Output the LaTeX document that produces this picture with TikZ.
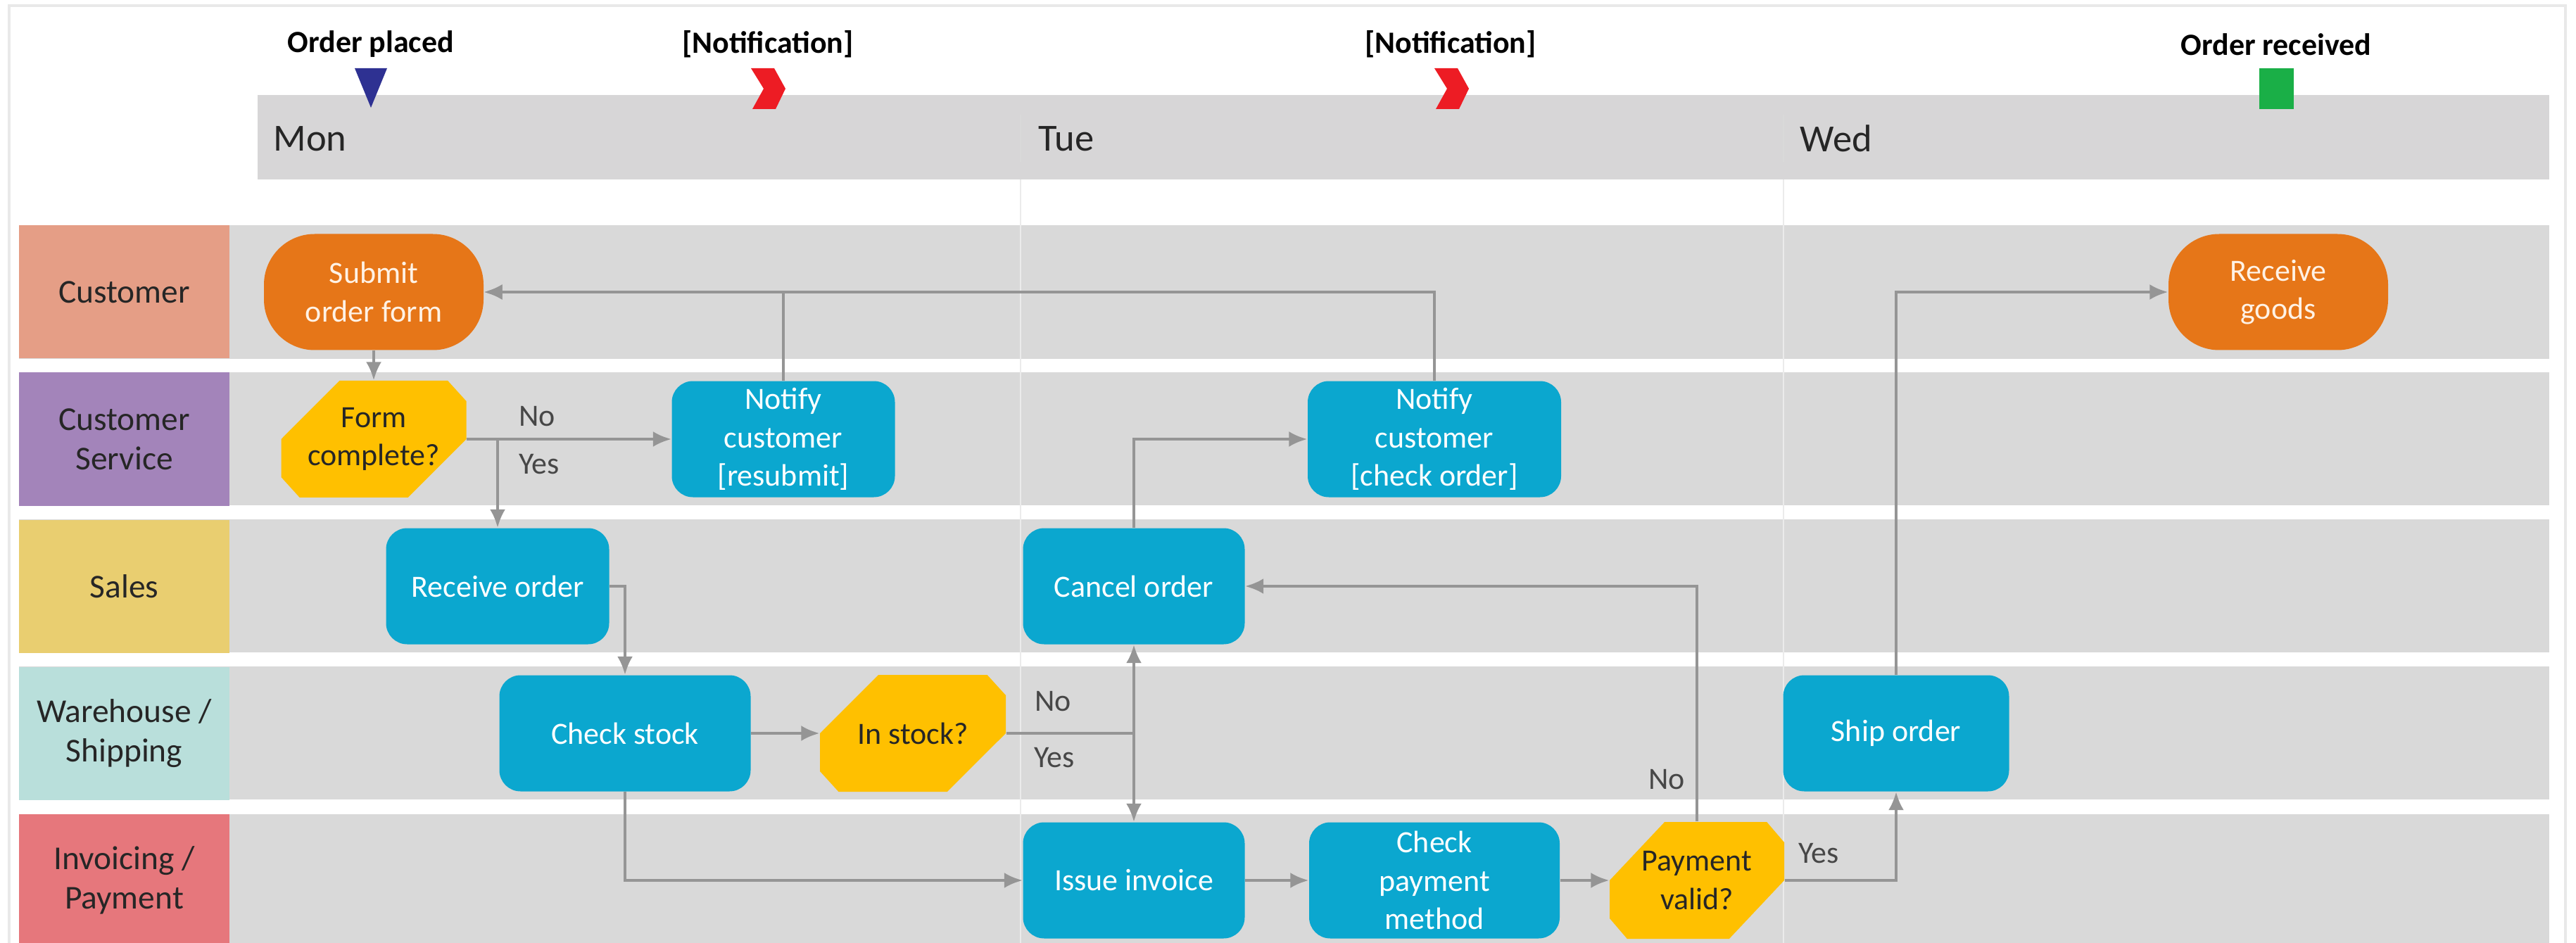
\documentclass[tikz,border=0pt]{standalone}
\usepackage{fontspec}
\setmainfont{Carlito}
\usepackage{tikz}
\usetikzlibrary{shapes}
\usetikzlibrary{positioning}
\usetikzlibrary{arrows.meta}

\definecolor{lanegray}{HTML}{D9D9D9}
\definecolor{bargray}{HTML}{D7D6D7}
\definecolor{framegray}{HTML}{E9E9E9}
\definecolor{linegray}{HTML}{959595}
\definecolor{procblue}{HTML}{0BA7CF}
\definecolor{decyellow}{HTML}{FFC000}
\definecolor{termorange}{HTML}{E67618}
\definecolor{custcolor}{HTML}{E59E86}
\definecolor{servcolor}{HTML}{A384BA}
\definecolor{salescolor}{HTML}{E9CE70}
\definecolor{whcolor}{HTML}{B9DFDB}
\definecolor{invcolor}{HTML}{E6777C}
\definecolor{textdark}{HTML}{262626}
\definecolor{markblue}{HTML}{2E3192}
\definecolor{markred}{HTML}{ED1C24}
\definecolor{markgreen}{HTML}{1AAF47}

\begin{document}
\begin{tikzpicture}[node distance=2.09cm, auto,
    >={Latex[length=2.6mm,width=2.2mm]},
    every node/.style={font=\fontsize{12.5}{15.5}\selectfont},
    process/.style={rounded corners=0.3cm, fill=procblue, text=white, align=center, inner sep=0pt, minimum width=#1, minimum height=1.65cm},
    process/.default=3.17cm,
    terminal/.style={rounded corners=0.72cm, fill=termorange, text=white!90!orange, align=center, inner sep=0pt, minimum width=3.12cm, minimum height=1.65cm},
    decision/.style={minimum width={2*#1 cm}, minimum height=1.66cm, inner sep=0pt, align=center, text=textdark,
        path picture={\fill[decyellow] (path picture bounding box.west) -- ++({0.63*#1},0.83) -- ++({1.17*#1},0)
            -- ++({0.2*#1},-0.29) -- ++(0,-0.54) -- ++({-0.63*#1},-0.83) -- ++({-1.17*#1},0) -- ++({-0.2*#1},0.29) -- cycle;}},
    decision/.default=1.315,
    lanelabel/.style={minimum width=2.99cm, minimum height=1.89cm, inner sep=0pt, align=center, text=textdark, font=\fontsize{13.5}{16}\selectfont},
    flow/.style={->, draw=linegray, line width=1.1pt},
    answer/.style={text=textdark!85, inner sep=0pt},
    milestone/.style={font=\bfseries\fontsize{12.5}{15}\selectfont, text=black, inner sep=0pt},
    day/.style={font=\fontsize{15.5}{18}\selectfont, text=textdark, anchor=west, inner sep=0pt}]

    \useasboundingbox (0,0) rectangle (36.6,-13.4);
    \clip (0,0) rectangle (36.6,-13.4);
    \draw[framegray, line width=1pt] (0.13,-0.08) rectangle (36.45,-13.8);

    % timeline
    \fill[bargray] (3.66,-1.35) rectangle (36.22,-2.55);
    \node[day] (day_mon) at (3.88,-1.97) {Mon};
    \node[day] (day_tue) at (14.75,-1.97) {Tue};
    \node[day] (day_wed) at (25.57,-1.97) {Wed};
    \draw[black!15, line width=0.8pt] (14.50,-1.63) -- (14.50,-2.30);
    \draw[black!15, line width=0.8pt] (25.34,-1.63) -- (25.34,-2.30);

    \node[milestone] (order_placed) at (5.27,-0.63) {Order placed};
    \node[milestone] (notification_a) at (10.91,-0.63) {[Notification]};
    \node[milestone] (notification_b) at (20.61,-0.63) {[Notification]};
    \node[milestone] (order_received) at (32.34,-0.63) {Order received};
    \fill[markblue] (5.04,-0.97) -- (5.50,-0.97) -- (5.27,-1.53) -- cycle;
    \fill[markred] (10.67,-0.97) -- (11.00,-0.97) -- (11.16,-1.26) -- (11.02,-1.55) -- (10.69,-1.55) -- (10.85,-1.26) -- cycle;
    \fill[markred] (20.38,-0.97) -- (20.71,-0.97) -- (20.87,-1.26) -- (20.73,-1.55) -- (20.40,-1.55) -- (20.56,-1.26) -- cycle;
    \fill[markgreen] (32.10,-0.97) rectangle (32.59,-1.55);

    % lanes
    \fill[lanegray] (0.27,-3.20) rectangle (36.22,-5.10);
    \fill[lanegray] (0.27,-5.29) rectangle (36.22,-7.18);
    \fill[lanegray] (0.27,-7.38) rectangle (36.22,-9.27);
    \fill[lanegray] (0.27,-9.47) rectangle (36.22,-11.36);
    \fill[lanegray] (0.27,-11.57) rectangle (36.22,-13.46);
    \draw[white!92!black, line width=0.8pt] (14.50,-2.55) -- (14.50,-13.4);
    \draw[white!92!black, line width=0.8pt] (25.34,-2.55) -- (25.34,-13.4);

    \node[lanelabel, fill=custcolor] (lane_customer) at (1.765,-4.15) {Customer};
    \node[lanelabel, fill=servcolor] (lane_service) [below of=lane_customer] {Customer\\Service};
    \node[lanelabel, fill=salescolor] (lane_sales) [below of=lane_service] {Sales};
    \node[lanelabel, fill=whcolor] (lane_warehouse) [below of=lane_sales] {Warehouse /\\Shipping};
    \node[lanelabel, fill=invcolor] (lane_invoicing) [below of=lane_warehouse] {Invoicing /\\Payment};

    % steps
    \node[terminal] (submit_form) at (5.31,-4.15) {Submit\\order form};
    \node[decision] (form_complete) [below of=submit_form] {Form\\complete?};
    \node[process] (notify_resubmit) at (11.13,-6.24) {Notify\\customer\\{[resubmit]}};
    \node[process] (receive_order) at (7.07,-8.33) {Receive order};
    \node[process=3.57cm] (check_stock) at (8.88,-10.42) {Check stock};
    \node[decision=1.32] (in_stock) [right of=check_stock, node distance=4.09cm] {In stock?};
    \node[process=3.15cm] (cancel_order) at (16.11,-8.33) {Cancel order};
    \node[process=3.15cm] (issue_invoice) [below of=cancel_order, node distance=4.18cm] {Issue invoice};
    \node[process=3.56cm] (check_payment) [right of=issue_invoice, node distance=4.27cm] {Check\\payment\\method};
    \node[decision=1.24] (payment_valid) [right of=check_payment, node distance=3.73cm] {Payment\\valid?};
    \node[process=3.6cm] (notify_check) at (20.38,-6.24) {Notify\\customer\\{[check order]}};
    \node[process=3.21cm] (ship_order) at (26.94,-10.42) {Ship order};
    \node[terminal] (receive_goods) at (32.37,-4.15) {Receive\\goods};

    \node[answer] (form_no) at (7.63,-5.92) {No};
    \node[answer] (form_yes) at (7.66,-6.60) {Yes};
    \node[answer] (stock_no) at (14.96,-9.97) {No};
    \node[answer] (stock_yes) at (14.98,-10.77) {Yes};
    \node[answer] (payment_no) at (23.68,-11.08) {No};
    \node[answer] (payment_yes) at (25.84,-12.13) {Yes};

    % connectors
    \draw[flow] (submit_form) -- (form_complete);
    \draw[flow] (form_complete.east) -- (notify_resubmit.west);
    \draw[flow] (receive_order.north |- form_complete.east) -- (receive_order.north);
    \draw[flow] (notify_resubmit.north) |- (submit_form.east);
    \draw[flow] (notify_check.north) |- (submit_form.east);
    \draw[flow] (receive_order.east) -| (check_stock.north);
    \draw[flow] (check_stock.east) -- (in_stock.west);
    \draw[flow, -] (in_stock.east) -- (in_stock.east -| cancel_order.south) coordinate (stock_split);
    \draw[flow] (stock_split) -- (cancel_order.south);
    \draw[flow] (stock_split) -- (issue_invoice.north);
    \draw[flow] (check_stock.south) |- (issue_invoice.west);
    \draw[flow] (cancel_order.north) |- (notify_check.west);
    \draw[flow] (issue_invoice.east) -- (check_payment.west);
    \draw[flow] (check_payment.east) -- (payment_valid.west);
    \draw[flow] (payment_valid.north) |- (cancel_order.east);
    \draw[flow] (payment_valid.east) -| (ship_order.south);
    \draw[flow] (ship_order.north) |- (receive_goods.west);
\end{tikzpicture}
\end{document}
